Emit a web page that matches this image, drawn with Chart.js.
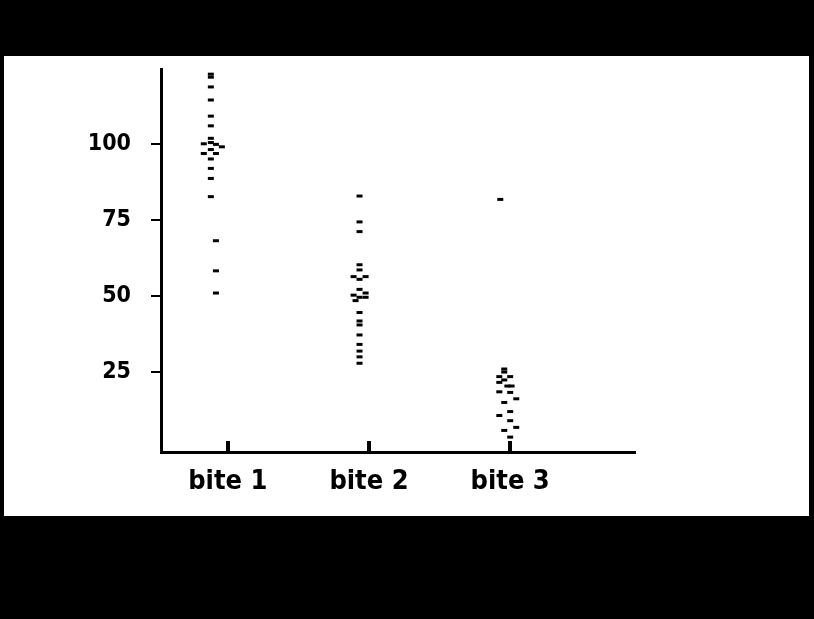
<!DOCTYPE html>
<html>
<head>
<meta charset="utf-8">
<script src="https://cdn.jsdelivr.net/npm/chart.js@4/dist/chart.umd.min.js"></script>
<style>
    html, body { margin: 0; padding: 0; background: #000; }
    #wrap { width: 814px; height: 619px; }
</style>
</head>
<body>
<div id="wrap"><canvas id="bite-chart" width="814" height="619"></canvas></div>
<script>
const categories = ['bite 1', 'bite 2', 'bite 3'];
const yTickValues = [25, 50, 75, 100];

// values, with the small sideways spread of each dot
const bite1Values = [123, 122, 118.8, 114.5, 109.2, 106, 101.9, 100.5, 100.1, 99.9, 99.1, 98.2, 96.9, 96.9, 95.1, 92, 88.7, 82.7, 68.2, 58.3, 51];
const bite1X = [0.88, 0.88, 0.88, 0.88, 0.88, 0.88, 0.88, 0.88, 0.83, 0.916, 0.958, 0.88, 0.83, 0.916, 0.88, 0.88, 0.88, 0.88, 0.916, 0.916, 0.916];

const bite2Values = [82.9, 74.4, 71.2, 60.3, 58.6, 56.4, 56.4, 55.5, 52.2, 51, 50.3, 49.6, 49.6, 48.5, 44.6, 41.8, 40.5, 37.2, 34.1, 31.9, 30, 27.9];
const bite2X = [1.933, 1.933, 1.933, 1.933, 1.933, 1.891, 1.976, 1.933, 1.933, 1.976, 1.891, 1.976, 1.933, 1.905, 1.933, 1.933, 1.933, 1.933, 1.933, 1.933, 1.933, 1.933];

const bite3Values = [81.8, 26, 25, 23.5, 23.5, 22.4, 21.6, 20.4, 20.4, 18.5, 18.3, 16.2, 15, 12, 10.7, 9, 6.8, 5.8, 3.6];
const bite3X = [2.93, 2.958, 2.958, 2.923, 3.0, 2.958, 2.923, 2.98, 3.01, 2.923, 3.0, 3.043, 2.958, 3.0, 2.923, 3.0, 3.043, 2.958, 3.0];

function toPoints(xs, ys) {
    return ys.map((y, i) => ({ x: xs[i], y: y }));
}

const FONT = "'DejaVu Sans Condensed', 'Liberation Sans Narrow', 'DejaVu Sans', sans-serif";

const paperPlugin = {
    id: 'paper',
    beforeDraw(chart) {
        const ctx = chart.ctx;
        ctx.save();
        ctx.fillStyle = '#000';
        ctx.fillRect(0, 0, chart.width, chart.height);
        ctx.fillStyle = '#fff';
        ctx.fillRect(4, 56, 805, 460);
        ctx.restore();
    }
};

// short upward ticks on the x axis at each category
const innerTicksPlugin = {
    id: 'innerTicks',
    afterDatasetsDraw(chart) {
        const ctx = chart.ctx;
        const xs = chart.scales.x;
        const bottom = chart.chartArea.bottom;
        ctx.save();
        ctx.fillStyle = '#000';
        categories.forEach((c, i) => {
            const px = xs.getPixelForValue(i + 1);
            ctx.fillRect(Math.round(px) - 2, bottom - 11, 4, 11);
        });
        ctx.restore();
    }
};

const dotStyle = {
    pointStyle: 'line',
    pointRadius: 3,
    pointBorderWidth: 3,
    borderColor: '#000',
    backgroundColor: '#000',
    showLine: false
};

new Chart(document.getElementById('bite-chart').getContext('2d'), {
    type: 'scatter',
    data: {
        datasets: [
            Object.assign({ label: categories[0], data: toPoints(bite1X, bite1Values) }, dotStyle),
            Object.assign({ label: categories[1], data: toPoints(bite2X, bite2Values) }, dotStyle),
            Object.assign({ label: categories[2], data: toPoints(bite3X, bite3Values) }, dotStyle)
        ]
    },
    options: {
        responsive: false,
        animation: false,
        layout: {
            padding: { left: 0, top: 69, right: 179, bottom: 0 }
        },
        scales: {
            x: {
                type: 'linear',
                min: 0.527,
                max: 3.884,
                afterBuildTicks: function(scale) {
                    scale.ticks = categories.map((c, i) => ({ value: i + 1 }));
                },
                afterFit: function(scale) {
                    scale.height = 167;
                },
                grid: { display: false },
                border: { display: true, color: '#000', width: 3 },
                ticks: {
                    color: '#000',
                    padding: 6,
                    maxRotation: 0,
                    font: { family: FONT, size: 27, weight: 'bold' },
                    callback: function(value) {
                        return categories[Math.round(value) - 1];
                    }
                }
            },
            y: {
                min: -1.3,
                max: 124.7,
                afterBuildTicks: function(scale) {
                    scale.ticks = yTickValues.map(v => ({ value: v }));
                },
                afterFit: function(scale) {
                    scale.width = 161;
                },
                grid: {
                    drawOnChartArea: false,
                    color: '#000',
                    lineWidth: 2,
                    tickLength: 10
                },
                border: { display: true, color: '#000', width: 3 },
                ticks: {
                    color: '#000',
                    padding: 20,
                    font: { family: FONT, size: 23, weight: 'bold' }
                }
            }
        },
        plugins: {
            legend: { display: false },
            tooltip: { enabled: false }
        }
    },
    plugins: [paperPlugin, innerTicksPlugin]
});
</script>
</body>
</html>
